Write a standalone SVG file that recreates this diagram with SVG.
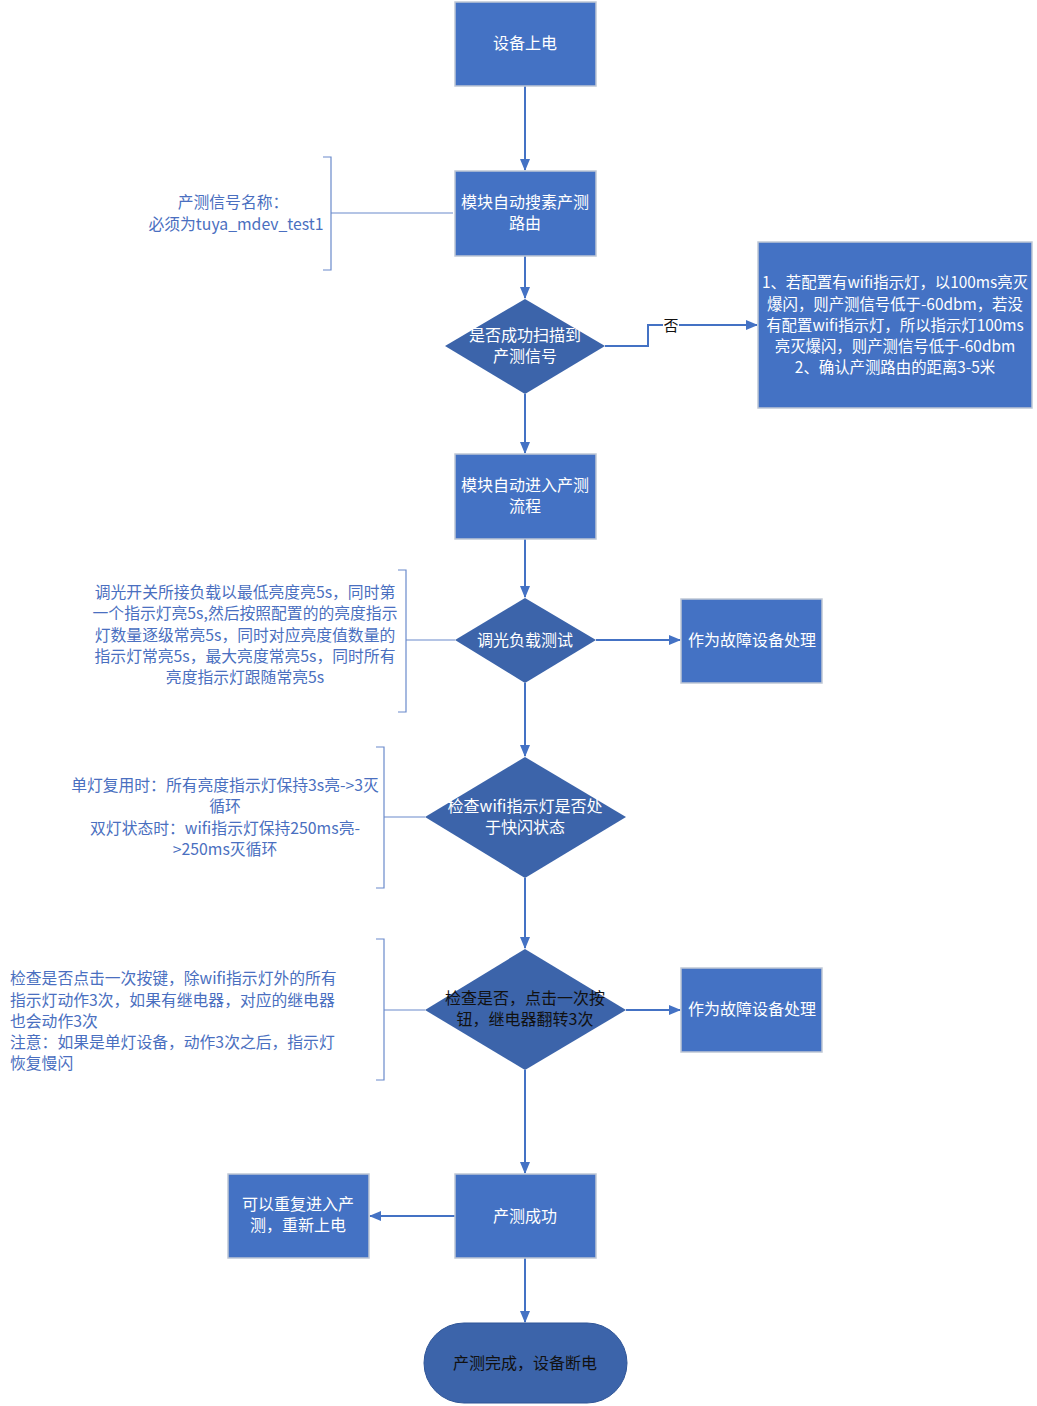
<svg xmlns="http://www.w3.org/2000/svg" width="1037" height="1406" viewBox="0 0 1037 1406">
<style>
.box{fill:#4472C4;stroke:#BFC7D5;stroke-width:1.5}
.dia{fill:#3C64AA;stroke:none}
.t{font-family:"Noto Sans CJK SC","Noto Sans",sans-serif;font-size:16px;fill:#fff;text-anchor:middle}
.tk{font-family:"Noto Sans CJK SC","Noto Sans",sans-serif;font-size:16px;fill:#111;text-anchor:middle}
.r{font-size:15.4px}
.a{font-family:"Noto Sans CJK SC","Noto Sans",sans-serif;font-size:15.8px;fill:#4A6FC0;text-anchor:middle}
.al{font-family:"Noto Sans CJK SC","Noto Sans",sans-serif;font-size:15.8px;fill:#4A6FC0}
.c{fill:none;stroke:#4472C4;stroke-width:2}
.b{fill:none;stroke:#6A8ACB;stroke-width:1.2}
</style>
<defs>
<marker id="ah" markerWidth="12" markerHeight="10" refX="11" refY="5" orient="auto" markerUnits="userSpaceOnUse">
<path d="M0,0 L12,5 L0,10 z" fill="#4472C4"/>
</marker>
</defs>
<g id="connectors">
<path class="c" d="M525,86 V170" marker-end="url(#ah)"/>
<path class="c" d="M525,256 V298" marker-end="url(#ah)"/>
<path class="c" d="M605,346 H648 V325 H757" marker-end="url(#ah)"/>
<path class="c" d="M525,394 V453" marker-end="url(#ah)"/>
<path class="c" d="M525,539 V597" marker-end="url(#ah)"/>
<path class="c" d="M596,640 H680" marker-end="url(#ah)"/>
<path class="c" d="M525,683 V756" marker-end="url(#ah)"/>
<path class="c" d="M525,878 V948" marker-end="url(#ah)"/>
<path class="c" d="M626,1010 H680" marker-end="url(#ah)"/>
<path class="c" d="M525,1070 V1173" marker-end="url(#ah)"/>
<path class="c" d="M455,1216 H370" marker-end="url(#ah)"/>
<path class="c" d="M525,1258 V1322" marker-end="url(#ah)"/>
<rect x="663" y="317" width="16" height="17" fill="#fff"/>
<text class="tk" x="671" y="331" style="font-size:15px">否</text>
</g>
<g id="n1"><rect class="box" x="455" y="2" width="141" height="84"/><text class="t" x="525" y="49">设备上电</text></g>
<g id="n2"><rect class="box" x="455" y="171" width="141" height="85"/><text class="t" x="525" y="208">模块自动搜素产测</text><text class="t" x="525" y="229">路由</text></g>
<g id="n3"><polygon class="dia" points="525,299 605,346 525,394 445,346"/><text class="t" x="525" y="341">是否成功扫描到</text><text class="t" x="525" y="362">产测信号</text></g>
<g id="n4"><rect class="box" x="758" y="242" width="274" height="166"/>
<text class="t r" x="895" y="288">1、若配置有wifi指示灯，以100ms亮灭</text>
<text class="t r" x="895" y="310">爆闪，则产测信号低于-60dbm，若没</text>
<text class="t r" x="895" y="331">有配置wifi指示灯，所以指示灯100ms</text>
<text class="t r" x="895" y="352">亮灭爆闪，则产测信号低于-60dbm</text>
<text class="t r" x="895" y="373">2、确认产测路由的距离3-5米</text></g>
<g id="n5"><rect class="box" x="455" y="454" width="141" height="85"/><text class="t" x="525" y="491">模块自动进入产测</text><text class="t" x="525" y="512">流程</text></g>
<g id="n6"><polygon class="dia" points="525,598 596,640 525,683 455,640"/><text class="t" x="525" y="646">调光负载测试</text></g>
<g id="n7"><rect class="box" x="681" y="599" width="141" height="84"/><text class="t" x="752" y="646">作为故障设备处理</text></g>
<g id="n8"><polygon class="dia" points="525,757 626,817 525,878 425,817"/><text class="t" x="525" y="812">检查wifi指示灯是否处</text><text class="t" x="525" y="833">于快闪状态</text></g>
<g id="n9"><polygon class="dia" points="525,949 626,1010 525,1070 425,1010"/><text class="tk" x="525" y="1004">检查是否，点击一次按</text><text class="tk" x="525" y="1025">钮，继电器翻转3次</text></g>
<g id="n10"><rect class="box" x="681" y="968" width="141" height="84"/><text class="t" x="752" y="1015">作为故障设备处理</text></g>
<g id="n11"><rect class="box" x="455" y="1174" width="141" height="84"/><text class="t" x="525" y="1222">产测成功</text></g>
<g id="n12"><rect class="box" x="228" y="1174" width="141" height="84"/><text class="t" x="298" y="1210">可以重复进入产</text><text class="t" x="298" y="1231">测，重新上电</text></g>
<g id="n13"><rect x="424" y="1323" width="203" height="80" rx="40" ry="40" fill="#3C64AA" stroke="#2F5597" stroke-width="1"/><text class="tk" x="525" y="1369">产测完成，设备断电</text></g>
<g id="note1">
<path class="b" d="M323,157 H331 V270 H323 M331,213 H453"/>
<text class="a" x="233" y="208">产测信号名称：</text>
<text class="a" x="236" y="230">必须为tuya_mdev_test1</text>
</g>
<g id="note2">
<path class="b" d="M398,570 H406 V712 H398 M406,640 H455"/>
<text class="a" x="245" y="598">调光开关所接负载以最低亮度亮5s，同时第</text>
<text class="a" x="245" y="619">一个指示灯亮5s,然后按照配置的的亮度指示</text>
<text class="a" x="245" y="641">灯数量逐级常亮5s，同时对应亮度值数量的</text>
<text class="a" x="245" y="662">指示灯常亮5s，最大亮度常亮5s，同时所有</text>
<text class="a" x="245" y="683">亮度指示灯跟随常亮5s</text>
</g>
<g id="note3">
<path class="b" d="M376,747 H384 V888 H376 M384,817 H425"/>
<text class="a" x="225" y="791">单灯复用时：所有亮度指示灯保持3s亮-&gt;3灭</text>
<text class="a" x="225" y="812">循环</text>
<text class="a" x="225" y="834">双灯状态时：wifi指示灯保持250ms亮-</text>
<text class="a" x="225" y="855">&gt;250ms灭循环</text>
</g>
<g id="note4">
<path class="b" d="M376,939 H384 V1080 H376 M384,1010 H425"/>
<text class="al" x="10" y="984">检查是否点击一次按键，除wifi指示灯外的所有</text>
<text class="al" x="10" y="1006">指示灯动作3次，如果有继电器，对应的继电器</text>
<text class="al" x="10" y="1027">也会动作3次</text>
<text class="al" x="10" y="1048">注意：如果是单灯设备，动作3次之后，指示灯</text>
<text class="al" x="10" y="1069">恢复慢闪</text>
</g>
</svg>
